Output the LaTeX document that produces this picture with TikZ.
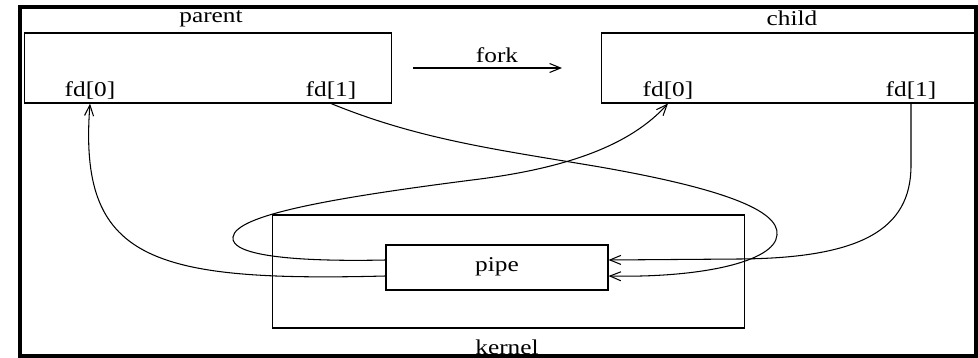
\documentclass[tikz,border=0pt]{standalone}
\usepackage{fontspec}
\newfontfamily\figfont[FakeStretch=1.2]{Liberation Serif}
\usetikzlibrary{arrows.meta, positioning}

\begin{document}
\begin{tikzpicture}[
  x=0.02cm, y=-0.02cm,
  proc/.style={rectangle, draw=black, line width=0.6pt, minimum height=1.4cm, inner sep=0pt},
  kbox/.style={rectangle, draw=black, line width=0.6pt, inner sep=0pt},
  lbl/.style={font=\figfont\fontsize{12}{14}\selectfont, inner sep=0pt, anchor=base},
  flow/.style={line width=0.6pt},
  >/.tip={Straight Barb[length=2.2mm,width=1.8mm]}
]
\useasboundingbox (0,0) rectangle (978,358);
\fill[white] (0,0) rectangle (978,358);

% processes
\node (parent) at (208,68) [proc, minimum width=7.36cm] {};
\node (child) at (788,68) [proc, minimum width=7.48cm] {};
\node (parentlbl) at (211,23) [lbl] {parent};
\node (childlbl) at (792,26) [lbl] {child};
\node (pf0) at (90,97) [lbl] {fd[0]};
\node (pf1) at (331,97) [lbl] {fd[1]};
\node (cf0) at (668,97) [lbl] {fd[0]};
\node (cf1) at (911,97) [lbl] {fd[1]};

% kernel and pipe
\node (kernel) at (508.5,271.5) [kbox, minimum width=9.46cm, minimum height=2.26cm] {};
\node (pipe) at (497,267.5) [kbox, minimum width=4.44cm, minimum height=0.9cm] {};
\node (pipelbl) at (497,272) [lbl] {pipe};
\node (kernellbl) at (507,354) [lbl] {kernel};

% fork
\node (forklbl) at (497,63) [lbl] {fork};
\coordinate (forkL) at (413,68);
\coordinate (forkR) at (562,68);
\draw [->, flow] (forkL) -- (forkR);

\draw [->, flow] ([yshift=-0.17cm]pipe.west) .. controls (150,282) and (78,260) .. (pf0.south |- parent.south);
\draw [->, flow] ([yshift=0.15cm]pipe.west) .. controls (290,262) and (230,255) .. (233,237)
  .. controls (236,215) and (330,198) .. (480,179)
  .. controls (580,166) and (635,140) .. (cf0.south |- child.south);
\draw [->, flow] (pf1.south |- parent.south) .. controls (420,140) and (500,150) .. (600,167)
  .. controls (720,188) and (780,210) .. (777,235)
  .. controls (775,262) and (700,278) .. ([yshift=-0.17cm]pipe.east);
\draw [->, flow] (cf1.south |- child.south) -- ++(0,62)
  .. controls (911,230) and (860,258) .. (740,259) -- ([yshift=0.15cm]pipe.east);

% outer frame
\draw[line width=1.8pt] (20,7) rectangle (976,356);

\end{tikzpicture}
\end{document}
